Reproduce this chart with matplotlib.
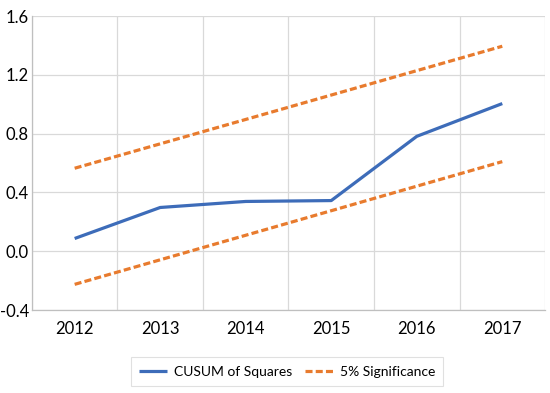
import numpy as np
import matplotlib.pyplot as plt

plt.rcParams['font.family'] = ['Lato', 'DejaVu Sans']

years = ['2012', '2013', '2014', '2015', '2016', '2017']
cusum = [0.087, 0.298, 0.339, 0.345, 0.782, 1.005]
upper = [0.565, 0.731, 0.897, 1.063, 1.229, 1.395]
lower = [-0.225, -0.058, 0.109, 0.276, 0.443, 0.610]

blue = '#3D6CB9'
orange = '#E87B2E'
grid = '#D9D9D9'

fig = plt.figure(figsize=(5.5, 3.93), dpi=100)
ax = fig.add_axes([0.058, 0.211, 0.933, 0.748])

x = np.arange(len(years))
ax.plot(x, cusum, color=blue, lw=2.3, solid_capstyle='butt', label='CUSUM of Squares', zorder=3)
ax.plot(x, upper, color=orange, lw=2.3, dashes=(2.2, 1.0), label='5% Significance', zorder=3)
ax.plot(x, lower, color=orange, lw=2.3, dashes=(2.2, 1.0), zorder=3)

ax.set_xlim(-0.5, len(years) - 0.5)
ax.set_ylim(-0.4, 1.6)
ax.set_yticks(np.arange(-0.4, 1.61, 0.4))
ax.set_yticklabels(['%.1f' % v for v in np.arange(-0.4, 1.61, 0.4)])
ax.set_xticks(x)
ax.set_xticklabels(years)
ax.set_xticks(np.arange(-0.5, len(years)), minor=True)

ax.grid(axis='y', which='major', color=grid, lw=0.9)
ax.grid(axis='x', which='minor', color=grid, lw=0.9)
ax.set_axisbelow(True)

for s in ['top', 'right']:
    ax.spines[s].set_visible(False)
for s in ['left', 'bottom']:
    ax.spines[s].set_color('#BFBFBF')
    ax.spines[s].set_linewidth(0.9)

ax.tick_params(which='both', length=0, labelsize=12, colors='black')
ax.tick_params(axis='x', pad=8)
ax.tick_params(axis='y', pad=2)

leg = fig.legend(loc='center', bbox_to_anchor=(0.522, 0.054), ncol=2, fontsize=10,
                 frameon=True, fancybox=False, edgecolor='#D9D9D9',
                 handlelength=2.0, columnspacing=0.9, handletextpad=0.5,
                 borderpad=0.6)
leg.get_frame().set_linewidth(0.8)

fig.savefig('out.png', dpi=100)
